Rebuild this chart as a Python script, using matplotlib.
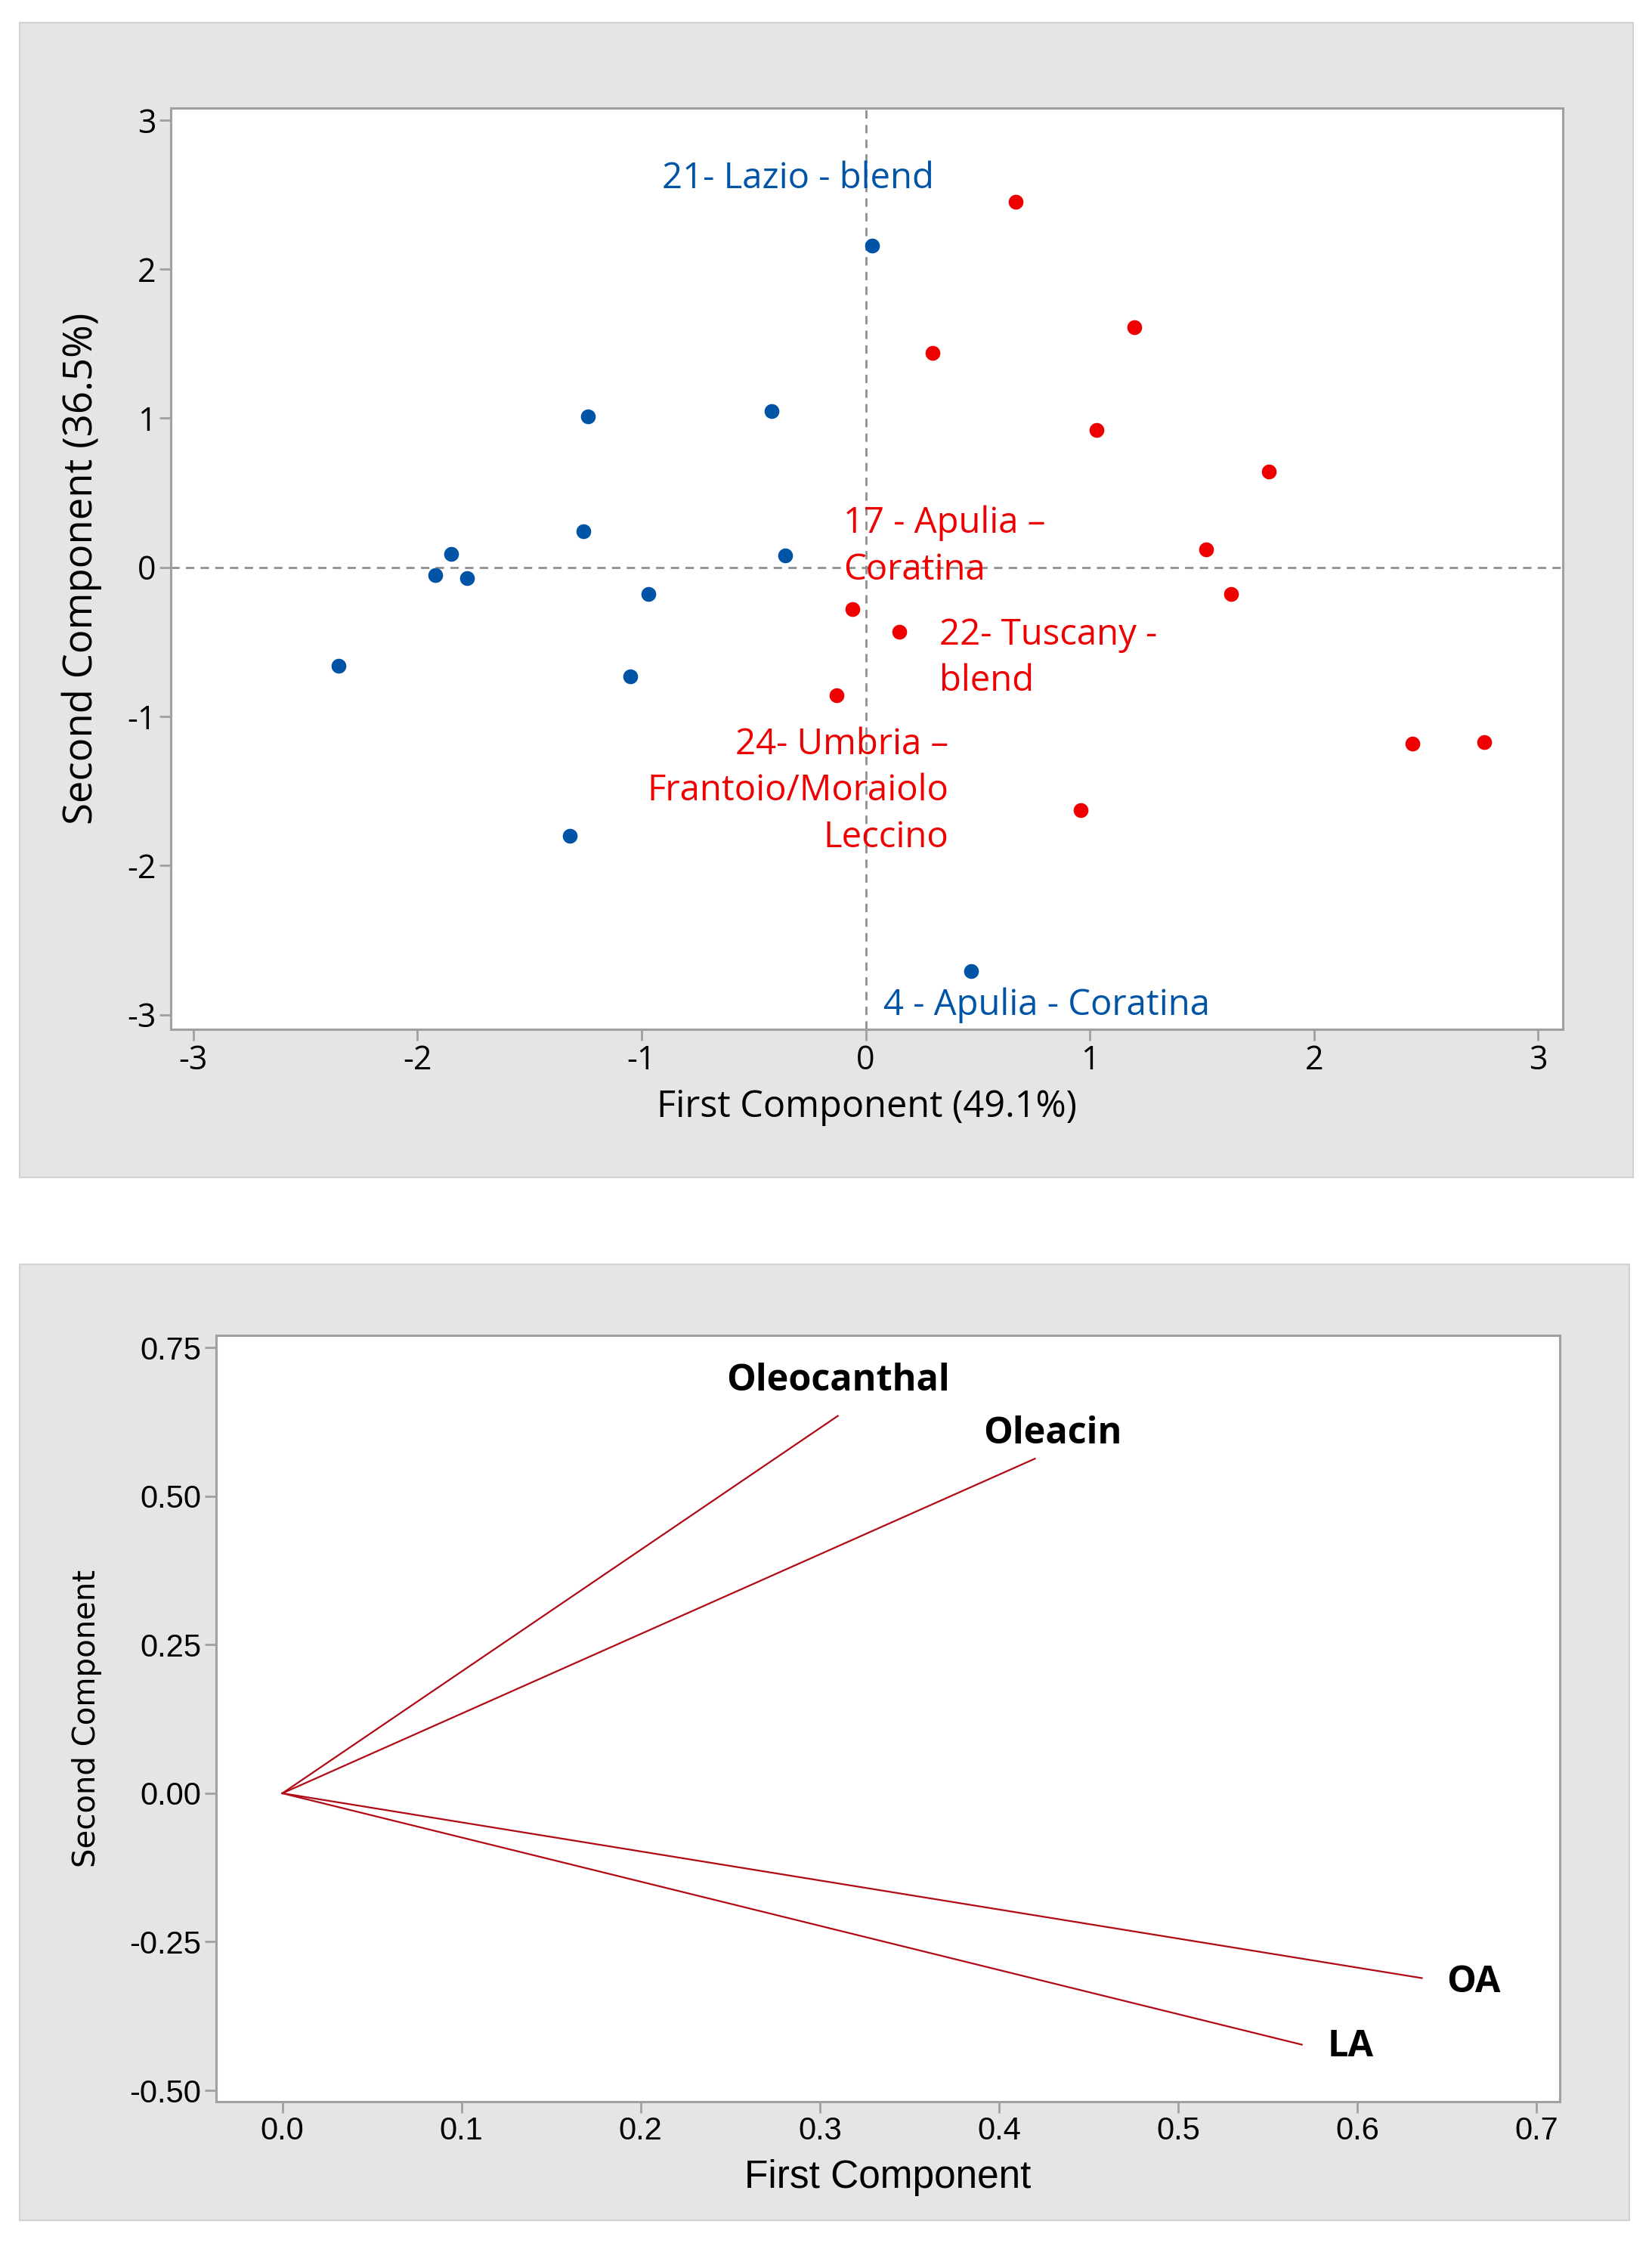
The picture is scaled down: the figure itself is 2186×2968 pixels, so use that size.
import matplotlib.pyplot as plt
from matplotlib.patches import Rectangle

plt.rcParams['axes.unicode_minus'] = False

# PCA scores
blue_x = [0.03, -1.24, -0.42, -1.26, -1.85, -1.92, -1.78, -0.36, -0.97, -1.05, -2.35, -1.32, 0.47]
blue_y = [2.16, 1.01, 1.05, 0.24, 0.09, -0.05, -0.07, 0.08, -0.18, -0.73, -0.66, -1.80, -2.71]
red_x = [0.67, 1.20, 0.30, 1.03, 1.80, 1.52, 1.63, -0.06, 0.15, -0.13, 2.44, 2.76, 0.96]
red_y = [2.45, 1.61, 1.44, 0.92, 0.64, 0.12, -0.18, -0.28, -0.43, -0.86, -1.18, -1.17, -1.63]

# sample annotations: text, x, y, colour key, alignment
notes = [
    ("21- Lazio - blend", -0.91, 2.61, "blue", "left"),
    ("17 - Apulia \u2013\nCoratina", -0.10, 0.14, "red", "left"),
    ("22- Tuscany -\nblend", 0.33, -0.61, "red", "left"),
    ("24- Umbria \u2013\nFrantoio/Moraiolo\nLeccino", 0.37, -1.50, "red", "right"),
    ("4 - Apulia - Coratina", 0.08, -2.94, "blue", "left"),
]

# loadings
var_names = ["Oleocanthal", "Oleacin", "OA", "LA"]
load_x = [0.310, 0.420, 0.636, 0.569]
load_y = [0.635, 0.563, -0.311, -0.423]
label_x = [0.310, 0.430, 0.665, 0.596]
label_y = [0.694, 0.605, -0.319, -0.427]

BLUE = "#0054a6"
RED = "#ee0000"
SPINE = "#a0a0a0"
colors = {"blue": BLUE, "red": RED}

main_font = ["Open Sans", "DejaVu Sans"]
narrow_font = ["Liberation Sans Narrow", "Liberation Sans", "DejaVu Sans"]

fig = plt.figure(figsize=(21.86, 29.68), dpi=100)

# grey panel backgrounds
fig.patches.append(Rectangle((0.0119, 0.4751), 0.9767, 0.5148, transform=fig.transFigure,
                             facecolor="#e5e5e5", edgecolor="#d2d2d2", lw=1.5, zorder=-5))
fig.patches.append(Rectangle((0.0119, 0.0101), 0.9744, 0.4262, transform=fig.transFigure,
                             facecolor="#e5e5e5", edgecolor="#d2d2d2", lw=1.5, zorder=-5))


def style_axes(ax):
    for s in ax.spines.values():
        s.set_color(SPINE)
        s.set_linewidth(2.2)
    ax.tick_params(direction="out", length=11, width=2, color=SPINE, pad=3)


# ---- score plot ----
ax1 = fig.add_axes([0.1034, 0.541, 0.8426, 0.4108])
style_axes(ax1)
ax1.axhline(0, color="#8f8f8f", lw=2, ls=(0, (4, 3)), zorder=1)
ax1.axvline(0, color="#8f8f8f", lw=2, ls=(0, (4, 3)), zorder=1)
ax1.scatter(blue_x, blue_y, s=200, color=BLUE, zorder=3, linewidths=0)
ax1.scatter(red_x, red_y, s=200, color=RED, zorder=3, linewidths=0)
for txt, x, y, c, ha in notes:
    ax1.text(x, y, txt, color=colors[c], ha=ha, va="center", fontsize=34,
             family=main_font, linespacing=1.38, zorder=4)
ax1.set_xlim(-3.1, 3.11)
ax1.set_ylim(-3.1, 3.08)
ax1.set_xticks(range(-3, 4))
ax1.set_yticks(range(-3, 4))
for lab in ax1.get_xticklabels() + ax1.get_yticklabels():
    lab.set_fontsize(31)
    lab.set_family(main_font)
ax1.set_xlabel("First Component (49.1%)", fontsize=35, family=main_font, labelpad=10)
ax1.set_ylabel("Second Component (36.5%)", fontsize=38, family=main_font, labelpad=24)

# ---- loading plot ----
ax2 = fig.add_axes([0.1308, 0.0630, 0.8134, 0.3415])
style_axes(ax2)
for name, x, y, lx, ly in zip(var_names, load_x, load_y, label_x, label_y):
    ax2.plot([0, x], [0, y], color="#b00a14", lw=1.6, zorder=2)
    ax2.text(lx, ly, name, ha="center", va="center", fontsize=35, fontweight="bold",
             family=main_font, zorder=3)
ax2.set_xlim(-0.037, 0.713)
ax2.set_ylim(-0.519, 0.770)
ax2.set_xticks([0.0, 0.1, 0.2, 0.3, 0.4, 0.5, 0.6, 0.7])
ax2.set_yticks([-0.50, -0.25, 0.00, 0.25, 0.50, 0.75])
ax2.set_xticklabels(["0.0", "0.1", "0.2", "0.3", "0.4", "0.5", "0.6", "0.7"])
ax2.set_yticklabels(["-0.50", "-0.25", "0.00", "0.25", "0.50", "0.75"])
for lab in ax2.get_xticklabels() + ax2.get_yticklabels():
    lab.set_fontsize(30)
    lab.set_family(narrow_font)
ax2.set_xlabel("First Component", fontsize=37, family=narrow_font, labelpad=12)
ax2.set_ylabel("Second Component", fontsize=29, family=["DejaVu Sans"], labelpad=26)

fig.savefig("out.png", dpi=100)
